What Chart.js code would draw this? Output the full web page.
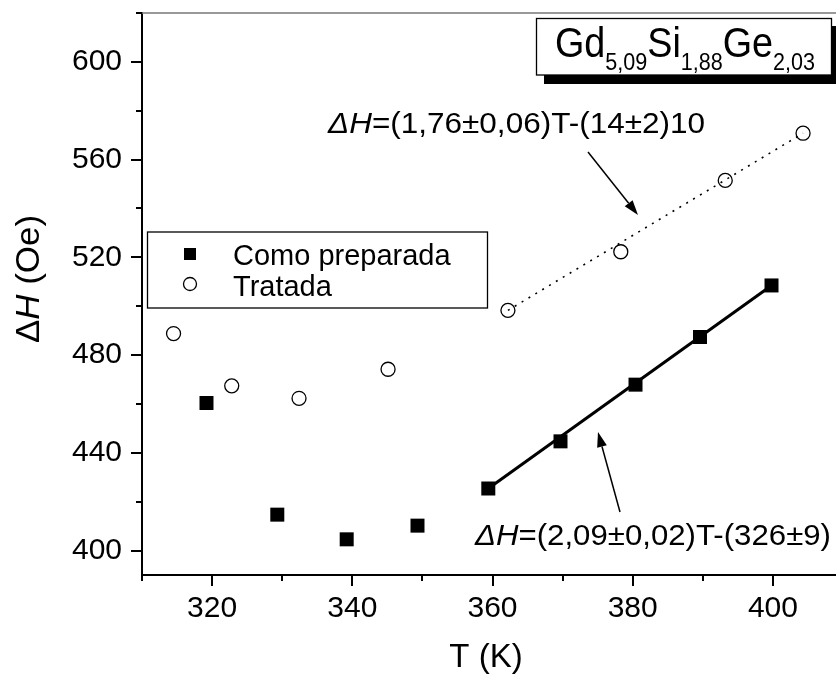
<!DOCTYPE html>
<html>
<head>
<meta charset="utf-8">
<script src="https://cdn.jsdelivr.net/npm/chart.js@4/dist/chart.umd.min.js"></script>
<style>
html,body{margin:0;padding:0;background:#fff;}
#wrap{width:836px;height:677px;}
</style>
</head>
<body>
<div id="wrap"><canvas id="myChart" width="836" height="677"></canvas></div>
<script>
// datos
var prepT = [319.2, 329.3, 339.2, 349.3, 359.4, 369.7, 380.4, 389.6, 399.8];
var prepH = [460.4, 414.7, 404.6, 410.2, 425.4, 444.7, 467.9, 487.4, 508.5];
var tratT = [314.5, 322.8, 332.4, 345.1, 362.2, 378.3, 393.2, 404.3];
var tratH = [488.8, 467.4, 462.3, 474.2, 498.3, 522.3, 551.5, 570.8];
// ajustes lineales (extremos)
var fitPrepT = [359.4, 399.8];
var fitPrepH = [425.4, 508.5];
var fitTratT = [362.2, 404.3];
var fitTratH = [498.3, 570.8];

var FONT = "'Liberation Sans', Arial, sans-serif";

function pts(xs, ys){
    return xs.map(function(x, i){ return {x: x, y: ys[i]}; });
}

// dibuja texto con partes (cursiva, subindices)
function drawRuns(ctx, x, y, runs, targetW){
    var total = 0;
    runs.forEach(function(r){
        ctx.font = r.font;
        r.w = ctx.measureText(r.text).width;
        total += r.w;
    });
    var sx = targetW ? targetW / total : 1;
    ctx.save();
    ctx.translate(x, y);
    ctx.scale(sx, 1);
    var cx = 0;
    runs.forEach(function(r){
        ctx.font = r.font;
        ctx.fillText(r.text, cx, r.dy || 0);
        cx += r.w;
    });
    ctx.restore();
}

function arrow(ctx, x1, y1, x2, y2){
    var ang = Math.atan2(y2 - y1, x2 - x1);
    var L = 15, W = 5;
    ctx.beginPath();
    ctx.moveTo(x1, y1);
    ctx.lineTo(x2 - L * Math.cos(ang), y2 - L * Math.sin(ang));
    ctx.lineWidth = 1.5;
    ctx.strokeStyle = "#000";
    ctx.stroke();
    ctx.beginPath();
    ctx.moveTo(x2, y2);
    ctx.lineTo(x2 - L * Math.cos(ang) + W * Math.sin(ang), y2 - L * Math.sin(ang) - W * Math.cos(ang));
    ctx.lineTo(x2 - L * Math.cos(ang) - W * Math.sin(ang), y2 - L * Math.sin(ang) + W * Math.cos(ang));
    ctx.closePath();
    ctx.fillStyle = "#000";
    ctx.fill();
}

var extras = {
    id: "extras",
    afterDraw: function(chart){
        var ctx = chart.ctx;
        var a = chart.chartArea;
        var sx = chart.scales.x, sy = chart.scales.y;
        ctx.save();
        // linea superior gris
        ctx.strokeStyle = "#777";
        ctx.lineWidth = 1.5;
        ctx.beginPath();
        ctx.moveTo(a.left, a.top);
        ctx.lineTo(a.right, a.top);
        ctx.stroke();
        // marcas de los ejes
        ctx.strokeStyle = "#000";
        ctx.lineWidth = 2;
        sy.ticks.forEach(function(t){
            var v = t.value;
            if (Math.abs(v % 20) > 1e-6) return;
            var len = (Math.abs(v % 40) < 1e-6) ? 11 : 6;
            var p = Math.round(sy.getPixelForValue(v));
            ctx.beginPath();
            ctx.moveTo(a.left - len, p);
            ctx.lineTo(a.left, p);
            ctx.stroke();
        });
        sx.ticks.forEach(function(t){
            var v = t.value;
            if (Math.abs(v % 10) > 1e-6) return;
            var len = (Math.abs(v % 20) < 1e-6) ? 11 : 6;
            var p = Math.round(sx.getPixelForValue(v));
            ctx.beginPath();
            ctx.moveTo(p, a.bottom);
            ctx.lineTo(p, a.bottom + len);
            ctx.stroke();
        });

        ctx.fillStyle = "#000";
        ctx.textBaseline = "alphabetic";
        ctx.textAlign = "left";

        // titulos de los ejes
        ctx.font = "33px " + FONT;
        ctx.textAlign = "center";
        ctx.fillText("T (K)", 486, 667);
        ctx.textAlign = "left";
        ctx.save();
        ctx.translate(39, 279);
        ctx.rotate(-Math.PI / 2);
        var yt = [
            {text: "\u0394", font: "33px " + FONT},
            {text: "H", font: "italic 33px " + FONT},
            {text: " (Oe)", font: "33px " + FONT}
        ];
        drawRuns(ctx, -64, 0, yt, 128);
        ctx.restore();

        // leyenda
        ctx.fillStyle = "#fff";
        ctx.fillRect(147, 232, 340, 76);
        ctx.strokeStyle = "#000";
        ctx.lineWidth = 1.3;
        ctx.strokeRect(147.5, 232, 340, 76);
        ctx.fillStyle = "#000";
        ctx.fillRect(184, 248, 12, 12);
        ctx.beginPath();
        ctx.arc(190, 284, 6.5, 0, Math.PI * 2);
        ctx.lineWidth = 1.3;
        ctx.stroke();
        ctx.font = "29px " + FONT;
        ctx.fillText(chart.data.datasets[2].label, 233, 265);
        ctx.fillText(chart.data.datasets[3].label, 233, 296);

        // caja de la composicion
        ctx.fillStyle = "#000";
        ctx.fillRect(544, 26, 300, 58);
        ctx.fillStyle = "#fff";
        ctx.fillRect(536, 18, 296, 57);
        ctx.strokeStyle = "#000";
        ctx.lineWidth = 1.3;
        ctx.strokeRect(536.5, 18.5, 295, 56.5);
        ctx.fillStyle = "#000";
        var big = "42px " + FONT, sub = "24px " + FONT;
        drawRuns(ctx, 555, 57, [
            {text: "Gd", font: big},
            {text: "5,09", font: sub, dy: 13},
            {text: "Si", font: big},
            {text: "1,88", font: sub, dy: 13},
            {text: "Ge", font: big},
            {text: "2,03", font: sub, dy: 13}
        ], 260);

        // ecuaciones
        var f = "29px " + FONT, fi = "italic 29px " + FONT;
        drawRuns(ctx, 328, 133, [
            {text: "\u0394", font: fi},
            {text: "H", font: fi},
            {text: "=(1,76\u00b10,06)T-(14\u00b12)10", font: f}
        ], 377);
        drawRuns(ctx, 475, 545, [
            {text: "\u0394", font: fi},
            {text: "H", font: fi},
            {text: "=(2,09\u00b10,02)T-(326\u00b19)", font: f}
        ], 356);

        arrow(ctx, 588, 152, 638, 215);
        arrow(ctx, 620, 512, 598, 432);
        ctx.restore();
    }
};

const data = {
    datasets: [
    {
        label: "ajuste tratada",
        type: "line",
        data: pts(fitTratT, fitTratH),
        borderColor: "#000",
        borderWidth: 1.6,
        borderDash: [2, 6],
        pointRadius: 0,
        fill: false
    },
    {
        label: "ajuste preparada",
        type: "line",
        data: pts(fitPrepT, fitPrepH),
        borderColor: "#000",
        borderWidth: 3,
        pointRadius: 0,
        fill: false
    },
    {
        label: "Como preparada",
        data: pts(prepT, prepH),
        pointStyle: "rect",
        pointRadius: 9.9,
        pointHoverRadius: 9.9,
        backgroundColor: "#000",
        borderColor: "#000",
        borderWidth: 0
    },
    {
        label: "Tratada",
        data: pts(tratT, tratH),
        pointStyle: "circle",
        pointRadius: 7,
        pointHoverRadius: 7,
        backgroundColor: "rgba(0,0,0,0)",
        borderColor: "#000",
        borderWidth: 1.3
    }]
};

const config = {
    type: "scatter",
    data: data,
    plugins: [extras],
    options: {
        responsive: false,
        animation: false,
        layout: { autoPadding: false, padding: { top: 13, right: 0, left: 0, bottom: 0 } },
        plugins: {
            legend: { display: false },
            tooltip: { enabled: false }
        },
        scales: {
            x: {
                type: "linear",
                min: 310,
                max: 409,
                afterFit: function(s){ s.height = 102; s.paddingLeft = 0; s.paddingRight = 0; },
                grid: { display: false, drawTicks: false },
                border: { display: true, color: "#000", width: 2 },
                ticks: {
                    stepSize: 10,
                    includeBounds: false,
                    padding: 16,
                    color: "#000",
                    font: { family: "Liberation Sans", size: 30 },
                    maxRotation: 0,
                    autoSkip: false,
                    callback: function(v){ return (v % 20 === 0) ? String(v) : ""; }
                }
            },
            y: {
                type: "linear",
                min: 390,
                max: 620,
                afterFit: function(s){ s.width = 142; s.paddingTop = 0; s.paddingBottom = 0; },
                grid: { display: false, drawTicks: false },
                border: { display: true, color: "#000", width: 2 },
                ticks: {
                    stepSize: 20,
                    includeBounds: false,
                    padding: 20,
                    color: "#000",
                    font: { family: "Liberation Sans", size: 30 },
                    autoSkip: false,
                    callback: function(v){ return (v % 40 === 0) ? String(v) : ""; }
                }
            }
        }
    }
};

var mychart = new Chart(document.getElementById("myChart").getContext("2d"), config);
</script>
</body>
</html>
